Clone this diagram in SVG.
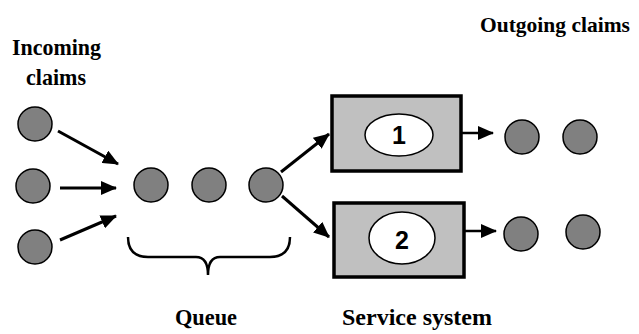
<svg xmlns="http://www.w3.org/2000/svg" width="639" height="334" viewBox="0 0 639 334">
  <style>
    .claim { fill: #808080; stroke: #000; stroke-width: 1.5; }
    .server { fill: #c0c0c0; stroke: #000; stroke-width: 3.5; }
    .slot { fill: #fff; stroke: #000; stroke-width: 1.5; }
    .arrow { fill: none; stroke: #000; stroke-width: 3; marker-end: url(#head); }
    .brace { fill: none; stroke: #000; stroke-width: 2.5; }
    .num { font-family: 'Liberation Sans', Arial, sans-serif; font-weight: bold; font-size: 25px; fill: #000; text-anchor: middle; }
  </style>
  <defs>
    <marker id="head" markerUnits="userSpaceOnUse" markerWidth="16" markerHeight="14" refX="15" refY="7" orient="auto">
      <path d="M0,0 L16,7 L0,14 Z" fill="#000"/>
    </marker>
  </defs>

  <!-- labels -->
  <g id="labels" font-family="Liberation Serif, Times New Roman, serif" font-weight="bold" font-size="23" fill="#000">
    <text x="12" y="55" textLength="89" lengthAdjust="spacingAndGlyphs">Incoming</text>
    <text x="26" y="85" textLength="60" lengthAdjust="spacingAndGlyphs">claims</text>
    <text x="480" y="32" font-size="22" textLength="150" lengthAdjust="spacingAndGlyphs">Outgoing claims</text>
    <text x="175" y="325" textLength="62" lengthAdjust="spacingAndGlyphs">Queue</text>
    <text x="342" y="325" textLength="150" lengthAdjust="spacingAndGlyphs">Service system</text>
  </g>

  <!-- arriving claims -->
  <g id="incoming">
    <circle class="claim" cx="35" cy="124" r="17"/>
    <circle class="claim" cx="33" cy="186" r="17"/>
    <circle class="claim" cx="35" cy="247" r="17"/>
  </g>

  <!-- waiting line -->
  <g id="queue">
    <circle class="claim" cx="151" cy="185" r="17"/>
    <circle class="claim" cx="209" cy="185" r="17"/>
    <circle class="claim" cx="266" cy="185" r="17"/>
    <path class="brace" d="M128,237 Q128,257 148,257 L196,257 Q208,257 208,275 Q208,257 220,257 L270,257 Q290,257 290,237"/>
  </g>

  <!-- server 1 -->
  <g id="server1">
    <rect class="server" x="332" y="96" width="129" height="75"/>
    <ellipse class="slot" cx="399" cy="135" rx="34" ry="21"/>
    <text class="num" x="399" y="144">1</text>
  </g>

  <!-- server 2 -->
  <g id="server2">
    <rect class="server" x="334" y="203" width="130" height="74"/>
    <ellipse class="slot" cx="402" cy="238" rx="33" ry="26"/>
    <text class="num" x="402" y="249">2</text>
  </g>

  <!-- served claims -->
  <g id="outgoing">
    <circle class="claim" cx="522" cy="137" r="17"/>
    <circle class="claim" cx="580" cy="137" r="17"/>
    <circle class="claim" cx="521" cy="234" r="17"/>
    <circle class="claim" cx="583" cy="232" r="17"/>
  </g>

  <!-- connectors -->
  <g id="connectors">
    <line class="arrow" x1="58" y1="131" x2="118" y2="164"/>
    <line class="arrow" x1="60" y1="188" x2="116" y2="188"/>
    <line class="arrow" x1="60" y1="240" x2="116" y2="216"/>
    <line class="arrow" x1="281" y1="172" x2="329" y2="134"/>
    <line class="arrow" x1="282" y1="196" x2="329" y2="237"/>
    <line class="arrow" x1="462" y1="133" x2="493" y2="133" style="stroke-width:2.5"/>
    <line class="arrow" x1="465" y1="231" x2="496" y2="231" style="stroke-width:2.5"/>
  </g>
</svg>
